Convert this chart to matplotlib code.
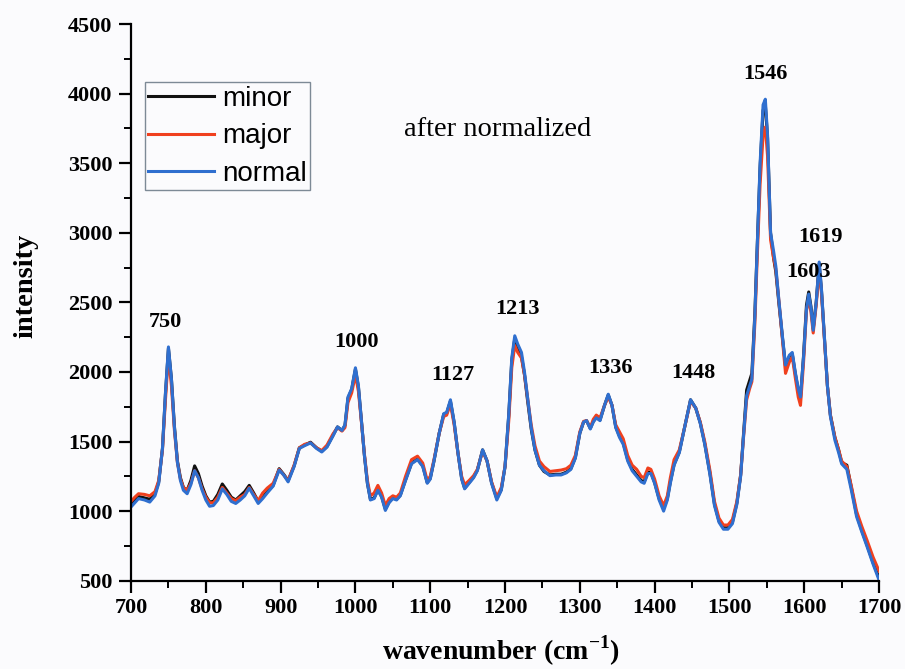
import matplotlib

matplotlib.use("Agg")
import matplotlib.pyplot as plt
from matplotlib.ticker import MultipleLocator

plt.rcParams.update(
    {
        "font.family": "Liberation Serif",
        "mathtext.fontset": "custom",
        "mathtext.rm": "Liberation Serif",
        "mathtext.bf": "Liberation Serif:bold",
        "figure.facecolor": "#fbfbfd",
        "axes.facecolor": "#fbfbfd",
    }
)

# wavenumber (cm^-1) and the three spectra
wavenumber = [
    700, 705, 710, 718, 725, 732, 737, 742, 746, 750,
    754, 758, 762, 766, 770, 775, 780, 785, 790, 795,
    800, 805, 810, 816, 822, 828, 834, 840, 846, 852,
    858, 864, 870, 876, 882, 890, 898, 904, 910, 918,
    925, 932, 940, 948, 955, 962, 970, 976, 982, 986,
    990, 995, 1000, 1004, 1008, 1012, 1016, 1020, 1025, 1030,
    1035, 1040, 1045, 1050, 1055, 1060, 1067, 1075, 1083, 1090,
    1096, 1100, 1105, 1112, 1118, 1122, 1127, 1132, 1137, 1142,
    1146, 1152, 1158, 1163, 1170, 1176, 1182, 1189, 1195, 1200,
    1205, 1209, 1213, 1217, 1222, 1226, 1230, 1235, 1240, 1246,
    1252, 1260, 1268, 1275, 1282, 1288, 1294, 1300, 1305, 1309,
    1314, 1318, 1322, 1327, 1333, 1338, 1343, 1348, 1353, 1358,
    1364, 1370, 1376, 1382, 1386, 1391, 1395, 1400, 1406, 1412,
    1417, 1421, 1426, 1433, 1440, 1448, 1455, 1461, 1467, 1474,
    1480, 1486, 1492, 1498, 1504, 1510, 1515, 1519, 1523, 1527,
    1530, 1534, 1537, 1541, 1545, 1548, 1551, 1555, 1559, 1562,
    1566, 1571, 1575, 1580, 1584, 1588, 1592, 1595, 1599, 1603,
    1606, 1609, 1612, 1616, 1620, 1623, 1628, 1631, 1635, 1641,
    1646, 1650, 1657, 1663, 1670, 1677, 1684, 1692, 1700,
]

normal = [
    1030, 1060, 1090, 1080, 1065, 1110, 1200, 1450, 1850, 2180,
    1950, 1600, 1350, 1220, 1150, 1125, 1190, 1290, 1240, 1150,
    1080, 1035, 1040, 1080, 1160, 1120, 1070, 1055, 1080, 1110,
    1165, 1110, 1055, 1090, 1130, 1180, 1295, 1260, 1210, 1320,
    1450, 1470, 1490, 1450, 1425, 1460, 1540, 1605, 1580, 1620,
    1820, 1880, 2030, 1900, 1650, 1400, 1200, 1080, 1090, 1150,
    1100, 1005, 1060, 1090, 1080, 1110, 1220, 1340, 1370, 1320,
    1200, 1230, 1360, 1560, 1700, 1710, 1800, 1640, 1420, 1230,
    1160, 1200, 1240, 1290, 1440, 1360, 1200, 1080, 1150, 1320,
    1700, 2100, 2260, 2200, 2140, 2000, 1820, 1600, 1440, 1330,
    1290, 1255, 1260, 1260, 1275, 1300, 1380, 1560, 1640, 1650,
    1590, 1640, 1670, 1650, 1760, 1840, 1760, 1600, 1530, 1480,
    1360, 1290, 1250, 1210, 1200, 1270, 1270, 1200, 1080, 1000,
    1080, 1200, 1330, 1420, 1600, 1800, 1740, 1630, 1480, 1260,
    1040, 920, 870, 870, 910, 1050, 1250, 1550, 1830, 1900,
    1950, 2400, 2880, 3500, 3920, 3960, 3700, 3000, 2870, 2760,
    2520, 2250, 2050, 2120, 2140, 2000, 1880, 1820, 2100, 2450,
    2560, 2460, 2300, 2500, 2790, 2600, 2160, 1900, 1680, 1510,
    1420, 1340, 1300, 1150, 960, 850, 745, 620, 505,
]

major = [
    1070, 1100, 1125, 1120, 1110, 1140, 1220, 1440, 1800, 2120,
    1900, 1580, 1350, 1230, 1170, 1150, 1200, 1290, 1240, 1160,
    1100, 1060, 1060, 1100, 1170, 1130, 1090, 1075, 1100, 1120,
    1170, 1120, 1075, 1130, 1165, 1200, 1300, 1260, 1220, 1330,
    1455, 1480, 1490, 1455, 1435, 1475, 1555, 1600, 1575, 1600,
    1780, 1850, 1980, 1860, 1640, 1410, 1220, 1110, 1130, 1185,
    1130, 1040, 1090, 1110, 1100, 1130, 1250, 1370, 1395, 1345,
    1220, 1250, 1370, 1560, 1680, 1690, 1770, 1620, 1420, 1250,
    1190, 1220, 1255, 1300, 1430, 1360, 1210, 1100, 1170, 1320,
    1650, 2030, 2190, 2140, 2100, 1980, 1820, 1620, 1470, 1360,
    1320, 1285, 1290, 1295, 1305, 1330, 1400, 1570, 1645, 1650,
    1600, 1660, 1690, 1670, 1760, 1820, 1760, 1620, 1570, 1520,
    1400, 1330, 1300, 1250, 1240, 1310, 1300, 1230, 1110, 1040,
    1110, 1240, 1370, 1440, 1600, 1790, 1740, 1640, 1500, 1290,
    1070, 950, 900, 900, 940, 1070, 1260, 1540, 1800, 1880,
    1930, 2350, 2800, 3350, 3700, 3760, 3550, 2950, 2820, 2740,
    2520, 2230, 1990, 2070, 2110, 1960, 1820, 1760, 2060, 2440,
    2530, 2430, 2280, 2480, 2740, 2570, 2150, 1900, 1690, 1530,
    1440, 1360, 1320, 1180, 1000, 890, 790, 670, 570,
]

minor = [
    1050, 1080, 1105, 1095, 1085, 1125, 1210, 1450, 1840, 2170,
    1950, 1610, 1360, 1240, 1170, 1150, 1220, 1325, 1270, 1180,
    1110, 1065, 1070, 1120, 1195, 1150, 1100, 1080, 1110, 1140,
    1185, 1130, 1070, 1100, 1140, 1185, 1305, 1265, 1220, 1325,
    1455, 1475, 1495, 1455, 1430, 1465, 1545, 1605, 1580, 1615,
    1810, 1875, 2020, 1890, 1650, 1400, 1200, 1085, 1095, 1155,
    1105, 1015, 1065, 1095, 1085, 1115, 1225, 1345, 1375, 1325,
    1205, 1235, 1360, 1560, 1695, 1705, 1790, 1635, 1420, 1235,
    1165, 1205, 1245, 1295, 1440, 1360, 1205, 1090, 1155, 1320,
    1690, 2080, 2240, 2170, 2110, 1980, 1800, 1590, 1440, 1330,
    1285, 1260, 1265, 1265, 1280, 1305, 1385, 1560, 1640, 1650,
    1595, 1645, 1675, 1655, 1760, 1835, 1760, 1605, 1540, 1490,
    1370, 1300, 1260, 1220, 1210, 1280, 1280, 1205, 1090, 1020,
    1090, 1210, 1335, 1425, 1600, 1800, 1740, 1635, 1485, 1270,
    1050, 930, 880, 880, 920, 1060, 1260, 1560, 1870, 1940,
    1990, 2420, 2880, 3470, 3880, 3920, 3680, 3000, 2820, 2720,
    2500, 2240, 2040, 2110, 2130, 1990, 1870, 1810, 2110, 2480,
    2575, 2470, 2310, 2500, 2780, 2590, 2160, 1900, 1690, 1530,
    1440, 1350, 1330, 1170, 975, 860, 755, 630, 520,
]

series_names = ["minor", "major", "normal"]
series_colors = ["#111111", "#f0401e", "#2f6fcf"]

peak_labels = ["750", "1000", "1127", "1213", "1336", "1448", "1546", "1603", "1619"]
peak_x = [746, 1002, 1130, 1216, 1341, 1452, 1548, 1606, 1622]
peak_y = [2360, 2215, 1980, 2455, 2025, 1990, 4140, 2720, 2970]

fig = plt.figure(figsize=(9.05, 6.69), dpi=100)
ax = fig.add_axes([0.1448, 0.132, 0.8265, 0.832])

for name, vals, color in zip(series_names, [minor, major, normal], series_colors):
    ax.plot(wavenumber, vals, color=color, lw=2.2, label=name, solid_joinstyle="round")

ax.set_xlim(700, 1700)
ax.set_ylim(500, 4500)
ax.xaxis.set_major_locator(MultipleLocator(100))
ax.xaxis.set_minor_locator(MultipleLocator(50))
ax.yaxis.set_major_locator(MultipleLocator(500))
ax.yaxis.set_minor_locator(MultipleLocator(250))

for side in ["top", "right"]:
    ax.spines[side].set_visible(False)
for side in ["left", "bottom"]:
    ax.spines[side].set_linewidth(1.6)

ax.tick_params(which="major", direction="out", length=8.5, width=1.6, labelsize=16)
ax.tick_params(axis="x", which="major", pad=4)
ax.tick_params(axis="y", which="major", pad=5)
ax.tick_params(which="minor", direction="out", length=5, width=1.4)
for lbl in ax.get_xticklabels() + ax.get_yticklabels():
    lbl.set_fontweight("bold")

# axis titles placed in figure pixels to match the original layout
fig.text(501 / 905, 1 - 651 / 669, "wavenumber (cm$^{\\mathbf{-1}}$)",
         ha="center", va="center", fontsize=20, fontweight="bold")
fig.text(26 / 905, 1 - 285.5 / 669, "intensity", rotation=90,
         ha="center", va="center", fontsize=20.5, fontweight="bold")

for txt, px, py in zip(peak_labels, peak_x, peak_y):
    ax.text(px, py, txt, ha="center", va="center", fontsize=16, fontweight="bold")

ax.text(1190, 3740, "after normalized", ha="center", va="center", fontsize=20.5)

leg = ax.legend(
    loc="upper left",
    bbox_to_anchor=(0.0187, 0.8953),
    prop={"family": "Liberation Sans", "size": 20},
    handlelength=2.35,
    handletextpad=0.3,
    labelspacing=0.42,
    borderpad=0.12,
    borderaxespad=0.0,
    fancybox=False,
    framealpha=1.0,
)
leg.get_frame().set_edgecolor("#7d8a96")
leg.get_frame().set_linewidth(1.0)
leg.get_frame().set_facecolor("#fbfbfd")

fig.savefig("out.png", dpi=100)
